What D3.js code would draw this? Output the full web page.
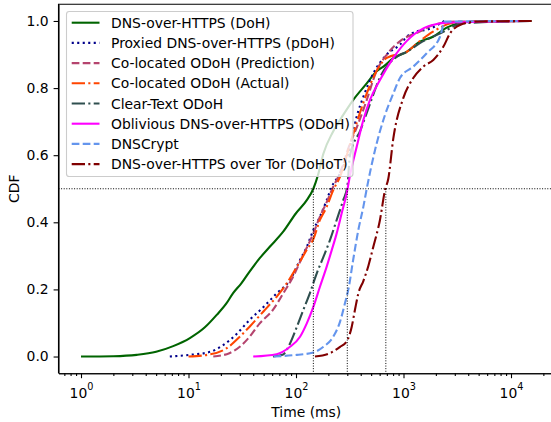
<!DOCTYPE html>
<html>
<head>
<meta charset="utf-8">
<script src="https://cdn.jsdelivr.net/npm/d3@7"></script>
<style>
    body { margin: 0; background: #fff; }
    svg { display: block; font-family: "DejaVu Sans", sans-serif; }
</style>
</head>
<body>
<div id="chart-area"></div>
<script>
// CDF of resolution time, [ms, cdf]
const dohData = [[1, 0], [2, 0.001], [3.3, 0.005], [5, 0.014], [7.2, 0.031], [10.3, 0.055], [14.2, 0.087], [18.3, 0.124], [22.6, 0.159], [26, 0.189], [31, 0.218], [37, 0.253], [46, 0.293], [57, 0.327], [76, 0.372], [100, 0.427], [126, 0.466], [145, 0.5], [160, 0.54], [180, 0.605], [221, 0.67], [275, 0.72], [341, 0.765], [455, 0.814], [563, 0.85], [650, 0.864], [804, 0.889], [1070, 0.908], [1420, 0.938], [1880, 0.953], [2520, 0.98], [3875, 0.997], [15500, 1]];
const pdohData = [[6.7, 0], [10.3, 0.005], [15.9, 0.014], [21, 0.034], [28, 0.067], [37, 0.109], [50, 0.148], [66, 0.188], [88, 0.228], [109, 0.288], [126, 0.327], [145, 0.377], [167, 0.417], [193, 0.466], [215, 0.506], [257, 0.546], [318, 0.625], [367, 0.715], [423, 0.774], [524, 0.844], [698, 0.9], [930, 0.93], [1070, 0.953], [1300, 0.968], [1700, 0.975], [2400, 1]];
const predData = [[17, 0], [24, 0.01], [30, 0.029], [37, 0.059], [46, 0.099], [61, 0.139], [76, 0.188], [94, 0.238], [113, 0.293], [145, 0.367], [167, 0.417], [193, 0.46], [222, 0.506], [239, 0.526], [270, 0.566], [310, 0.625], [370, 0.685], [450, 0.76], [560, 0.85], [700, 0.9], [930, 0.94], [1400, 0.968], [1900, 0.988], [3000, 0.998], [12000, 1]];
const actualData = [[10, 0], [15, 0.005], [22.7, 0.025], [30, 0.059], [37, 0.089], [50, 0.135], [66, 0.178], [82, 0.218], [102, 0.268], [126, 0.318], [145, 0.35], [167, 0.407], [193, 0.446], [222, 0.496], [257, 0.536], [310, 0.62], [370, 0.7], [450, 0.78], [560, 0.85], [700, 0.89], [1070, 0.908], [1420, 0.94], [1880, 0.968], [3000, 0.995], [12000, 1]];
const clearData = [[61, 0], [75, 0.005], [88, 0.039], [102, 0.089], [117, 0.139], [135, 0.19], [156, 0.248], [180, 0.297], [207, 0.347], [239, 0.407], [275, 0.466], [300, 0.506], [318, 0.6], [398, 0.675], [490, 0.755], [600, 0.83], [870, 0.894], [1070, 0.908], [1420, 0.934], [2200, 0.963], [3600, 0.993], [15000, 1]];
const odohData = [[40, 0], [66, 0.007], [88, 0.029], [109, 0.059], [126, 0.099], [145, 0.148], [167, 0.208], [193, 0.268], [215, 0.317], [239, 0.367], [266, 0.427], [296, 0.486], [318, 0.54], [367, 0.625], [423, 0.705], [488, 0.765], [604, 0.824], [804, 0.89], [1070, 0.94], [1530, 0.978], [2040, 0.991], [2520, 0.995], [15000, 1]];
const dnscryptData = [[62, 0], [102, 0.005], [145, 0.012], [180, 0.029], [222, 0.059], [257, 0.104], [286, 0.16], [307, 0.2], [341, 0.29], [380, 0.377], [423, 0.446], [455, 0.5], [543, 0.615], [673, 0.72], [804, 0.784], [927, 0.83], [1233, 0.864], [1643, 0.904], [2185, 0.953], [2430, 0.998], [12000, 1]];
const dohotData = [[150, 0], [207, 0.01], [257, 0.029], [296, 0.045], [330, 0.089], [354, 0.14], [380, 0.188], [423, 0.225], [471, 0.27], [524, 0.327], [604, 0.407], [673, 0.496], [722, 0.53], [804, 0.65], [995, 0.77], [1233, 0.83], [1528, 0.864], [1893, 0.884], [2345, 0.923], [2710, 0.963], [3355, 0.988], [4800, 0.998], [16000, 1]];

const seriesNames = [
    'DNS-over-HTTPS (DoH)',
    'Proxied DNS-over-HTTPS (pDoH)',
    'Co-located ODoH (Prediction)',
    'Co-located ODoH (Actual)',
    'Clear-Text ODoH',
    'Oblivious DNS-over-HTTPS (ODoH)',
    'DNSCrypt',
    'DNS-over-HTTPS over Tor (DoHoT)'
];

// medians of DoH, ODoH, DoHoT (ms)
const medianTimes = [145, 300, 685];

const xTicks = [1, 10, 100, 1000, 10000];
const yTicks = [0, 0.2, 0.4, 0.6, 0.8, 1.0];

window.addEventListener('DOMContentLoaded', (event) => {

    const allData = [dohData, pdohData, predData, actualData, clearData, odohData, dnscryptData, dohotData];

    const dotted = '2.1,3.4';
    const dashed = '7.7,3.3';
    const dashdot = '13.3,3.3,2.1,3.3';

    const styles = [
        { color: '#006400', dash: null },
        { color: '#00008b', dash: dotted },
        { color: '#b5446e', dash: dashed },
        { color: '#ff4500', dash: dashdot },
        { color: '#2f4f4f', dash: dashdot },
        { color: '#ff00ff', dash: null },
        { color: '#6495ed', dash: dashed },
        { color: '#800000', dash: dashdot }
    ];

    const margin = {
        top: 4.2,
        right: -3,
        bottom: 48.7,
        left: 58.5
    };

    const width = 551 - margin.left - margin.right;
    const height = 422 - margin.top - margin.bottom;
    const fontSize = '13.9px';

    const svg = d3.select('#chart-area')
        .append('svg')
        .attr('width', 551)
        .attr('height', 422);

    const chart = svg.append('g')
        .attr('transform', `translate(${margin.left},${margin.top})`);

    const x = d3.scaleLog()
        .domain([Math.pow(10, -0.2093), Math.pow(10, 4.4)])
        .range([0, width]);

    const y = d3.scaleLinear()
        .domain([-0.05, 1.05])
        .range([height, 0]);

    // curves
    const line = d3.line()
        .x((d) => x(d[0]))
        .y((d) => y(d[1]))
        .curve(d3.curveMonotoneX);

    allData.forEach((data, i) => {
        chart.append('path')
            .datum(data)
            .attr('fill', 'none')
            .attr('stroke', styles[i].color)
            .attr('stroke-width', 2.1)
            .attr('stroke-dasharray', styles[i].dash)
            .attr('d', line);
    });

    // reference lines
    chart.append('line')
        .attr('x1', 0)
        .attr('x2', width)
        .attr('y1', y(0.5))
        .attr('y2', y(0.5))
        .attr('stroke', '#000')
        .attr('stroke-width', 1)
        .attr('stroke-dasharray', '1,1.6');

    chart.selectAll('.median')
        .data(medianTimes)
        .enter()
        .append('line')
        .attr('class', 'median')
        .attr('x1', (d) => x(d))
        .attr('x2', (d) => x(d))
        .attr('y1', y(0.5))
        .attr('y2', height)
        .attr('stroke', '#000')
        .attr('stroke-width', 1)
        .attr('stroke-dasharray', '1,1.6');

    // axes
    const minorTicks = [];
    for (let e = -1; e <= 4; e++) {
        for (let m = 2; m <= 9; m++) {
            const v = m * Math.pow(10, e);
            if (v >= x.domain()[0] && v <= x.domain()[1]) minorTicks.push(v);
        }
    }

    chart.append('g')
        .attr('class', 'axis minor')
        .attr('transform', `translate(0, ${height})`)
        .call(d3.axisBottom(x).tickValues(minorTicks).tickSize(2.8).tickSizeOuter(0).tickFormat(''));

    const bottomAxis = chart.append('g')
        .attr('class', 'axis bottom')
        .attr('transform', `translate(0, ${height})`)
        .call(d3.axisBottom(x).tickValues(xTicks).tickSize(4.9).tickSizeOuter(0));

    bottomAxis.selectAll('text').each(function (d) {
        const t = d3.select(this);
        t.text(null).attr('y', 24.5).attr('dy', null);
        t.append('tspan').text('10');
        t.append('tspan')
            .attr('dy', -8)
            .style('font-size', '9.7px')
            .text(Math.round(Math.log10(d)));
    });

    chart.append('g')
        .attr('class', 'axis left')
        .call(d3.axisLeft(y).tickValues(yTicks).tickSize(4.9).tickPadding(4.9).tickSizeOuter(0).tickFormat(d3.format('.1f')));

    chart.selectAll('.axis text')
        .attr('font-family', '"DejaVu Sans", sans-serif')
        .style('font-size', function () { return this.style.fontSize || fontSize; })
        .attr('fill', '#000');
    chart.selectAll('.axis').attr('font-size', fontSize).attr('font-family', null);
    chart.selectAll('.axis path, .axis line').attr('stroke', '#000').attr('stroke-width', 1.1);

    // top and right spines
    chart.append('path')
        .attr('d', `M0,${height}V0H${width}V${height}`)
        .attr('fill', 'none')
        .attr('stroke', '#000')
        .attr('stroke-width', 1.1);

    // axis labels
    svg.append('text')
        .attr('x', margin.left + width / 2)
        .attr('y', 417)
        .attr('text-anchor', 'middle')
        .style('font-size', fontSize)
        .text('Time (ms)');

    svg.append('text')
        .attr('transform', `translate(19, ${margin.top + height / 2}) rotate(-90)`)
        .attr('text-anchor', 'middle')
        .style('font-size', fontSize)
        .text('CDF');

    // legend
    const legend = svg.append('g')
        .attr('class', 'legend');

    legend.append('rect')
        .attr('x', 66.5)
        .attr('y', 11.5)
        .attr('width', 286.5)
        .attr('height', 165)
        .attr('rx', 2.8)
        .attr('fill', 'rgba(255,255,255,0.8)')
        .attr('stroke', '#cccccc')
        .attr('stroke-width', 1.1);

    seriesNames.forEach((name, i) => {
        const cy = 22.7 + i * 20.2;
        legend.append('line')
            .attr('x1', 71.7)
            .attr('x2', 99.5)
            .attr('y1', cy)
            .attr('y2', cy)
            .attr('stroke', styles[i].color)
            .attr('stroke-width', 2.1)
            .attr('stroke-dasharray', styles[i].dash);
        legend.append('text')
            .attr('x', 111)
            .attr('y', cy)
            .attr('dy', '0.36em')
            .style('font-size', fontSize)
            .text(name);
    });

}); // End of document ready.
</script>
</body>
</html>
